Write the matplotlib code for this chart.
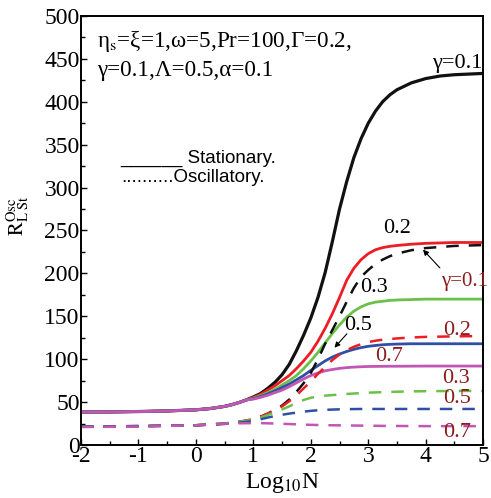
import numpy as np
import matplotlib
matplotlib.use("Agg")
import matplotlib.pyplot as plt
from matplotlib.ticker import MultipleLocator

plt.rcParams['font.family'] = ['Liberation Serif', 'DejaVu Serif']
plt.rcParams['mathtext.fontset'] = 'stix'
plt.rcParams['axes.unicode_minus'] = False

# stationary curves (solid), gamma = 0.1, 0.2, 0.3, 0.5, 0.7
x_low = [-2, -1.5, -1, -0.5, 0, 0.25, 0.5, 0.625, 0.75, 0.875]
st_low = [38.5, 38.6, 39, 39.7, 41, 42.5, 45, 47, 49.5, 52.5]
x_high = [1, 1.125, 1.25, 1.375, 1.5, 1.625, 1.75, 1.875, 2, 2.125, 2.25,
          2.375, 2.5, 2.625, 2.75, 2.875, 3, 3.125, 3.25, 3.375, 3.5, 3.75,
          4, 4.25, 4.5, 5]
st_g01 = [56, 60, 66, 73, 82, 94, 110, 128, 148, 172, 201, 237, 275, 307,
          335, 357, 375, 389, 400, 408, 414, 422, 427, 430, 431.5, 433]
st_g02 = [55.5, 59, 64, 69, 75, 81, 89, 98, 108, 121, 136, 153, 172, 192,
          206, 216, 223, 227.5, 230, 231.5, 232.5, 234, 235, 235.5, 236, 236]
st_g03 = [54.5, 57.5, 61, 65, 70, 75, 81, 89, 98, 108, 119, 130, 140, 149,
          156, 161, 164.5, 166.5, 167.5, 168.5, 169, 169.5, 170, 170, 170, 170]
st_g05 = [54, 56.5, 59.5, 63, 67, 71, 76, 81, 87, 92.5, 98, 102.5, 106, 109,
          111.5, 113.5, 115, 116, 116.8, 117.3, 117.6, 118, 118, 118, 118, 118]
st_g07 = [53.5, 55.5, 58, 61, 64, 68, 72.5, 77, 81, 84, 86.5, 88, 89.3, 90.2,
          90.8, 91.2, 91.5, 91.6, 91.7, 91.8, 91.8, 91.9, 92, 92, 92, 92]

# oscillatory curves (dashed)
x_osc = [-2, -1, 0, 0.5, 0.75, 1, 1.125, 1.25, 1.375, 1.5, 1.625, 1.75,
         1.875, 2, 2.125, 2.25, 2.375, 2.5, 2.625, 2.75, 2.875, 3, 3.125,
         3.25, 3.375, 3.5, 3.75, 4, 4.5, 5]
osc_g01 = [21.5, 22, 23, 25, 27, 30, 33, 36.5, 41, 46, 53, 62, 72, 84, 100,
           118, 134, 150, 167, 183, 196, 204, 211, 216, 220, 223, 227, 229.5,
           232, 233]
osc_g02 = [21.5, 22, 23, 25, 27, 30, 33, 36.5, 40.5, 45, 51, 58, 66, 74, 83,
           91, 99, 105.5, 110.5, 114.5, 117.5, 120, 121.5, 122.7, 123.5,
           124.2, 125.3, 126, 126.6, 127]
osc_g03 = [21.5, 22, 23, 25, 27, 29.5, 32, 35, 38, 41.5, 45, 49, 52.5, 55,
           56.5, 57.5, 58.2, 58.8, 59.5, 60, 60.5, 61, 61.3, 61.6, 61.9, 62.1,
           62.5, 62.7, 63, 63]
osc_g05 = [21.5, 22, 23, 24.5, 26, 28, 30, 32, 33.8, 35.3, 36.6, 37.8, 38.9,
           39.8, 40.5, 41, 41.3, 41.6, 41.8, 41.9, 42, 42, 42, 42, 42, 42, 42,
           42, 42, 42]
osc_g07 = [21, 21.5, 23, 24.8, 25.3, 25.5, 25.5, 25.3, 25, 24.7, 24.4, 24.1,
           23.8, 23.5, 23.3, 23.1, 23, 22.9, 22.8, 22.7, 22.6, 22.5, 22.4,
           22.3, 22.2, 22.2, 22.1, 22, 22, 22]

colors = ['#111111', '#ee1c24', '#6cc04a', '#2e4fa3', '#c156b4']
dark_red = '#8b1c1c'

fig = plt.figure(figsize=(4.91, 4.98), dpi=100)
ax = fig.add_axes([0.165, 0.1064, 0.819, 0.8616])

for ys, c in zip([st_g01, st_g02, st_g03, st_g05, st_g07], colors):
    ax.plot(x_low + x_high, st_low + ys, color=c,
            lw=2.3 if c == colors[0] else 2.0)
for ys, c in zip([osc_g01, osc_g02, osc_g03, osc_g05, osc_g07], colors):
    ax.plot(x_osc, ys, color=c, lw=1.8, dashes=(5, 4))

ax.set_xlim(-2, 5)
ax.set_ylim(0, 500)
ax.xaxis.set_major_locator(MultipleLocator(1))
ax.xaxis.set_minor_locator(MultipleLocator(0.5))
ax.yaxis.set_major_locator(MultipleLocator(50))
ax.yaxis.set_minor_locator(MultipleLocator(25))
ax.tick_params(which='both', direction='in', labelsize=17)
ax.tick_params(axis='x', pad=0.5)
ax.tick_params(axis='y', pad=1)
ax.tick_params(which='major', length=4, width=1)
ax.tick_params(which='minor', length=3, width=1)
for s in ax.spines.values():
    s.set_linewidth(1.4)

ax.set_xlabel(r'Log$_{10}$N', fontsize=17, labelpad=3)
ax.set_ylabel(r'$\mathrm{R}^{\mathrm{Osc}}_{\mathrm{L\ St}}$', fontsize=15)
ax.yaxis.set_label_coords(-0.125, 0.535)

ax.text(-1.72, 470, r'η$_{\mathrm{s}}$=ξ=1,ω=5,Pr=100,Γ=0.2,',
        fontsize=16.7, va='center', ha='left')
ax.text(-1.72, 436, 'γ=0.1,Λ=0.5,α=0.1', fontsize=16.7, va='center',
        ha='left')

ax.text(-1.32, 334, '______ Stationary.', fontsize=13.5, va='center',
        ha='left', family=['Liberation Sans'])
ax.text(-1.30, 312, '..........Oscillatory.', fontsize=13.5, va='center',
        ha='left', family=['Liberation Sans'])

# stationary labels
ax.text(4.98, 444, 'γ=0.1', fontsize=16, ha='right', va='center')
ax.text(3.51, 252, '0.2', fontsize=16, ha='center', va='center')
ax.text(3.10, 183, '0.3', fontsize=16, ha='center', va='center')
ax.text(2.83, 139, '0.5', fontsize=16, ha='center', va='center')
ax.text(3.36, 103, '0.7', fontsize=16, ha='center', va='center', color=dark_red)

# oscillatory labels
ax.text(4.27, 191, 'γ=0.1', fontsize=15, ha='left', va='center',
        color=dark_red, clip_on=False)
ax.text(4.54, 133, '0.2', fontsize=16, ha='center', va='center', color=dark_red)
ax.text(4.53, 78, '0.3', fontsize=16, ha='center', va='center', color=dark_red)
ax.text(4.54, 54, '0.5', fontsize=16, ha='center', va='center', color=dark_red)
ax.text(4.54, 14, '0.7', fontsize=16, ha='center', va='center', color=dark_red)

ax.annotate('', xy=(3.92, 230), xytext=(4.28, 204),
            arrowprops=dict(arrowstyle='-|>', color='black', lw=0.8,
                            mutation_scale=8))
ax.annotate('', xy=(2.38, 111), xytext=(2.66, 132),
            arrowprops=dict(arrowstyle='-|>', color='black', lw=0.8,
                            mutation_scale=8))

fig.savefig('out.png', dpi=100)
